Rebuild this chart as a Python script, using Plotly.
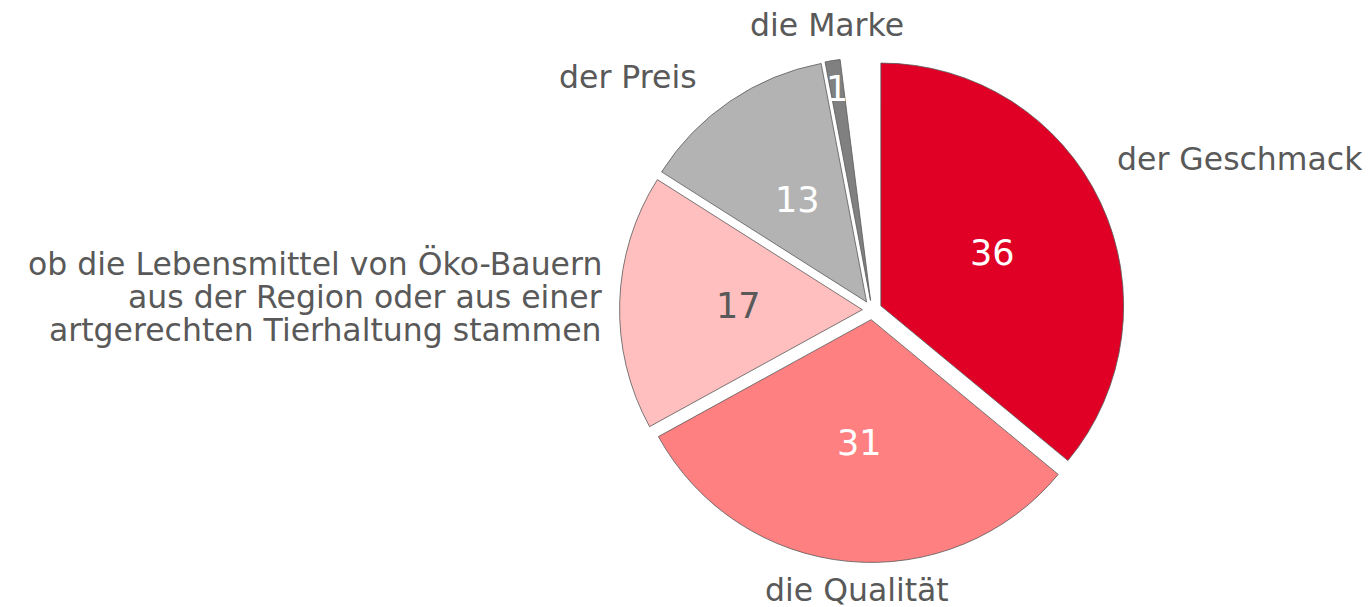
import math
import plotly.graph_objects as go

categories = [
    "der Geschmack",
    "die Qualität",
    "ob die Lebensmittel von Öko-Bauern<br>aus der Region oder aus einer<br>artgerechten Tierhaltung stammen",
    "der Preis",
    "die Marke",
]
values = [36, 31, 17, 13, 1]
value_labels = ["36", "31", "17", "13", "1"]
# share not shown in the chart (sums to 100 %)
missing_value = 100 - sum(values)

colors = ["#E00025", "#FF8080", "#FFBFBF", "#B3B3B3", "#808080"]
value_text_colors = ["#FFFFFF", "#FFFFFF", "#595959", "#FFFFFF", "#FFFFFF"]

# styling / placement (kept separate from the data)
value_label_radius = [0.55, 0.55, 0.55, 0.55, 0.92]   # in pie radii
label_pos = [
    dict(x=0.8088, y=0.7512, xanchor="left"),
    dict(x=0.6197, y=0.0412, xanchor="center"),
    dict(x=0.4343, y=[0.5799, 0.5239, 0.4695], xanchor="right"),
    dict(x=0.4526, y=0.8863, xanchor="center"),
    dict(x=0.5978, y=0.9720, xanchor="center"),
]
PULL = 0.04
font_family = "DejaVu Sans, Verdana, sans-serif"
label_color = "#595959"
domain = dict(x=[0.4464, 0.8150], y=[0.0865, 0.9185])

all_values = values + [missing_value]
all_colors = colors + ["rgba(0,0,0,0)"]
line_w = [0.8] * len(values) + [0]
line_c = ["#595959"] * len(values) + ["rgba(0,0,0,0)"]

fig = go.Figure()
fig.add_trace(go.Pie(
    labels=categories + ["rest"],
    values=all_values,
    textinfo="none",
    marker=dict(colors=all_colors, line=dict(color=line_c, width=line_w)),
    pull=[PULL] * len(all_values),
    sort=False,
    direction="clockwise",
    rotation=0,
    domain=domain,
    automargin=False,
    hoverinfo="skip",
    showlegend=False,
))

# hidden cartesian axes over the pie domain, 1 unit = pie radius
ext = 1 + PULL
fig.update_xaxes(domain=domain["x"], range=[-ext, ext], visible=False, fixedrange=True)
fig.update_yaxes(domain=domain["y"], range=[-ext, ext], visible=False, fixedrange=True)

total = sum(all_values)
cum = 0
for v, txt, col, rr in zip(values, value_labels, value_text_colors, value_label_radius):
    mid = (cum + v / 2) / total * 2 * math.pi   # clockwise from 12 o'clock
    cum += v
    fig.add_annotation(
        x=rr * math.sin(mid), y=rr * math.cos(mid), xref="x", yref="y",
        text=txt, showarrow=False, xanchor="center", yanchor="middle",
        borderpad=0,
        font=dict(family=font_family, size=35, color=col),
    )

for cat, pos in zip(categories, label_pos):
    lines = cat.split("<br>")
    ys = pos["y"] if isinstance(pos["y"], list) else [pos["y"]]
    for line, y in zip(lines, ys):
        fig.add_annotation(
            x=pos["x"], y=y, xref="paper", yref="paper",
            text=line, showarrow=False,
            xanchor=pos["xanchor"], yanchor="middle",
            borderpad=0,
            font=dict(family=font_family, size=31.5, color=label_color),
        )

fig.update_layout(
    width=1370,
    height=607,
    margin=dict(l=0, r=0, t=0, b=0, pad=0, autoexpand=False),
    paper_bgcolor="white",
    plot_bgcolor="rgba(0,0,0,0)",
    showlegend=False,
    font=dict(family=font_family, color=label_color),
)

fig.write_html("out.html")
